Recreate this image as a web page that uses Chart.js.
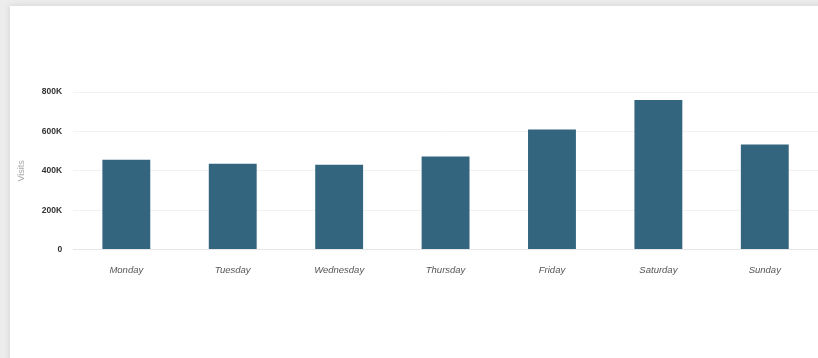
<!DOCTYPE html>
<html>
<head>
<meta charset="utf-8">
<script src="https://cdn.jsdelivr.net/npm/chart.js@4"></script>
<style>
  html, body { margin: 0; padding: 0; background: #ececec; overflow: hidden; }
  .card {
    position: absolute; left: 10px; top: 6px; width: 820px; height: 360px;
    background: #fff; box-shadow: 0 0 6px rgba(0,0,0,0.12);
  }
  #chart { position: absolute; left: 0; top: 0; }
</style>
</head>
<body>
<div class="card"><canvas id="chart" width="808" height="352"></canvas></div>
<script>
// Visits per weekday
const days = ['Monday', 'Tuesday', 'Wednesday', 'Thursday', 'Friday', 'Saturday', 'Sunday'];
const visits = [456000, 436000, 431000, 472000, 610000, 759000, 533000];
const yTicks = [0, 200000, 400000, 600000, 800000];

function formatK(v) {
  return v === 0 ? '0' : (v / 1000) + 'K';
}

const ctx = document.getElementById('chart');
new Chart(ctx, {
  type: 'bar',
  data: {
    labels: days,
    datasets: [{
      label: 'Visits',
      data: visits,
      backgroundColor: '#33657f',
      categoryPercentage: 0.9,
      barPercentage: 0.5
    }]
  },
  options: {
    responsive: false,
    animation: false,
    layout: { padding: { top: 86, bottom: 75, left: 2, right: 0 } },
    plugins: { legend: { display: false }, tooltip: { enabled: false } },
    scales: {
      x: {
        grid: { display: false },
        border: { color: '#e6e6e6' },
        ticks: {
          color: '#555',
          font: { family: 'Liberation Sans', size: 9.5, style: 'italic' },
          padding: 7
        }
      },
      y: {
        min: 0,
        max: 800000,
        afterBuildTicks: axis => { axis.ticks = yTicks.map(v => ({ value: v })); },
        grid: { color: '#f2f2f2', drawTicks: false },
        border: { display: false },
        title: {
          display: true,
          text: 'Visits',
          color: '#aaa',
          font: { family: 'Liberation Sans', size: 9 }
        },
        ticks: {
          color: '#333',
          padding: 11,
          font: { family: 'Liberation Sans', size: 8.5, weight: 'bold' },
          callback: v => formatK(v)
        }
      }
    }
  }
});
</script>
</body>
</html>
